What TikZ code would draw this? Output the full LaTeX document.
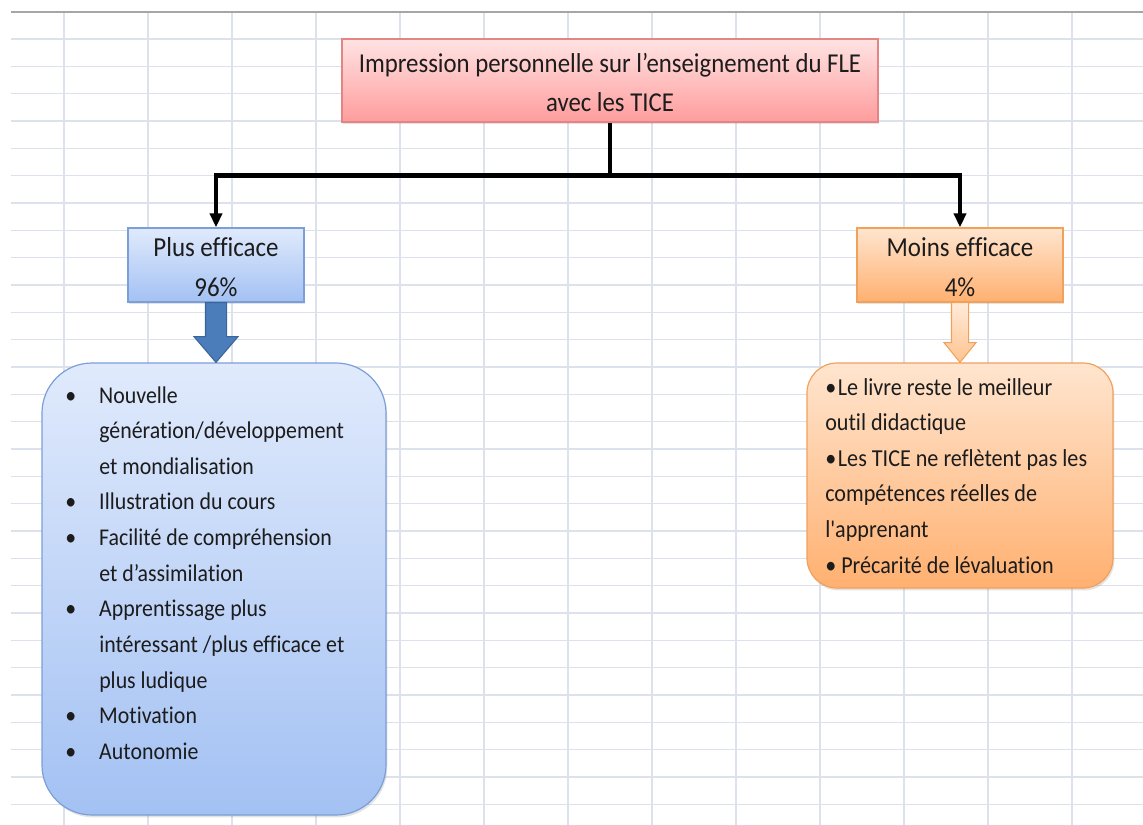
\documentclass[tikz,border=0pt]{standalone}
\usepackage{fontspec}
\setmainfont{Carlito}[Ligatures=CommonOff]
\usepackage{graphicx}
\usetikzlibrary{arrows.meta,shadows}

\definecolor{gridline}{HTML}{DCE1EC}
\definecolor{topline}{HTML}{A6A6A6}
\definecolor{txtcol}{HTML}{1C1C1C}
\definecolor{titletop}{HTML}{FFE3E3}
\definecolor{titlebot}{HTML}{FF9C9C}
\definecolor{titleborder}{HTML}{E48585}
\definecolor{bluetop}{HTML}{E0EAFC}
\definecolor{bluebot}{HTML}{A3C1F3}
\definecolor{blueborder}{HTML}{7C9FD8}
\definecolor{arrowblue}{HTML}{4B7DBB}
\definecolor{arrowblueborder}{HTML}{3A6599}
\definecolor{orangetop}{HTML}{FFE5CF}
\definecolor{orangebot}{HTML}{FFB070}
\definecolor{orangeborder}{HTML}{F2A15B}
\definecolor{arroworangetop}{HTML}{FFEBDA}
\definecolor{arroworangebot}{HTML}{FFC38E}

% text is set slightly taller than wide
\newcommand\tallbox[1]{\scalebox{1}[1.1]{#1}}
\newcommand\bluebullet{\makebox[25.5pt][l]{\textbullet}}
\newcommand\blueindent{\hspace*{25.5pt}}

\begin{document}
\begin{tikzpicture}[x=0.75pt,y=-0.75pt,
  box/.style={draw, line width=0.9pt, inner sep=0pt,
    drop shadow={opacity=0.22, shadow xshift=1pt, shadow yshift=-1.8pt}},
  titlebox/.style={box, draw=titleborder, top color=titletop, bottom color=titlebot,
    minimum width=402pt, minimum height=62.25pt},
  bluebox/.style={box, draw=blueborder, top color=bluetop, bottom color=bluebot},
  orangebox/.style={box, draw=orangeborder, top color=orangetop, bottom color=orangebot},
  label/.style={inner sep=0pt, text=txtcol},
  conn/.style={line width=3.3pt, black},
  tip/.style={-{Triangle[length=10.5pt,width=9pt]}},
  bluearrow/.style={fill=arrowblue, draw=arrowblueborder, line width=0.8pt},
  orangearrow/.style={top color=arroworangetop, bottom color=arroworangebot,
    draw=orangeborder, line width=0.8pt},
  gridstroke/.style={draw=gridline, line width=1.1pt}]

\useasboundingbox (0,0) rectangle (1143,825);
\fill[white] (0,0) rectangle (1143,825);

% spreadsheet grid behind the chart
\foreach \k in {0,...,28}
  \draw[gridstroke] (11,{39+27.33*\k}) -- (1143,{39+27.33*\k});
\foreach \k in {0,...,12}
  \draw[gridstroke] ({64+84*\k},11.7) -- ({64+84*\k},825);
\draw[topline, line width=1.2pt] (11,11.7) -- (1143,11.7);

% boxes
\node[titlebox] (title) at (610,80.5) {};
\node[bluebox, minimum width=132pt, minimum height=55.5pt] (plus) at (216,265) {};
\node[orangebox, minimum width=154.5pt, minimum height=55.5pt] (moins) at (960,265) {};
\node[bluebox, rounded corners=37.5pt, minimum width=258pt, minimum height=339pt] (blist) at (214,589) {};
\node[orangebox, rounded corners=22.5pt, minimum width=229.5pt, minimum height=168.75pt] (olist) at (960,475.5) {};

% tree connectors
\draw[conn] (title.south) -- ++(0,53) coordinate (split);
\draw[conn, tip] (split) -| (plus.north);
\draw[conn, tip] (split) -| (moins.north);

% block arrows down to the lists
\draw[bluearrow] ([xshift=-7.9pt]plus.south) -- ([xshift=7.9pt]plus.south)
  -- ([xshift=7.9pt, yshift=-25.5pt]plus.south) -- ([xshift=16.5pt, yshift=-25.5pt]plus.south)
  -- (plus.south |- blist.north)
  -- ([xshift=-16.5pt, yshift=-25.5pt]plus.south) -- ([xshift=-7.9pt, yshift=-25.5pt]plus.south)
  -- cycle;
\draw[orangearrow] ([xshift=-6.4pt]moins.south) -- ([xshift=6.4pt]moins.south)
  -- ([xshift=6.4pt, yshift=-30pt]moins.south) -- ([xshift=12pt, yshift=-30pt]moins.south)
  -- (moins.south |- olist.north)
  -- ([xshift=-12pt, yshift=-30pt]moins.south) -- ([xshift=-6.4pt, yshift=-30pt]moins.south)
  -- cycle;

% texts
\node[label, anchor=base, font=\fontsize{18.6}{26.6}\selectfont] (titletext) at (610,72)
  {\tallbox{\begin{tabular}[t]{@{}c@{}}Impression personnelle sur l’enseignement du FLE\\ avec les TICE\end{tabular}}};
\node[label, anchor=base, font=\fontsize{18.7}{27.3}\selectfont] (plustext) at (216,256)
  {\tallbox{\begin{tabular}[t]{@{}c@{}}Plus efficace\\ 96\%\end{tabular}}};
\node[label, anchor=base, font=\fontsize{18.7}{27.3}\selectfont] (moinstext) at (960,256)
  {\tallbox{\begin{tabular}[t]{@{}c@{}}Moins efficace\\ 4\%\end{tabular}}};
\node[label, anchor=base west, font=\fontsize{16.4}{24.3}\selectfont] (bluetext) at (65,403)
  {\tallbox{\begin{tabular}[t]{@{}l@{}}
   \bluebullet Nouvelle\\
   \blueindent génération/développement\\
   \blueindent et mondialisation\\
   \bluebullet Illustration du cours\\
   \bluebullet Facilité de compréhension\\
   \blueindent et d’assimilation\\
   \bluebullet Apprentissage plus\\
   \blueindent intéressant /plus efficace et\\
   \blueindent plus ludique\\
   \bluebullet Motivation\\
   \bluebullet Autonomie
  \end{tabular}}};
\node[label, anchor=base west, font=\fontsize{16.6}{24.3}\selectfont] (orangetext) at (825,395)
  {\tallbox{\begin{tabular}[t]{@{}l@{}}
   \makebox[9.5pt][l]{\textbullet}Le livre reste le meilleur\\
   outil didactique\\
   \makebox[9.5pt][l]{\textbullet}Les TICE ne reflètent pas les\\
   compétences réelles de\\
   l\textquotesingle apprenant\\
   \makebox[12pt][l]{\textbullet}Précarité de lévaluation
  \end{tabular}}};
\end{tikzpicture}
\end{document}
